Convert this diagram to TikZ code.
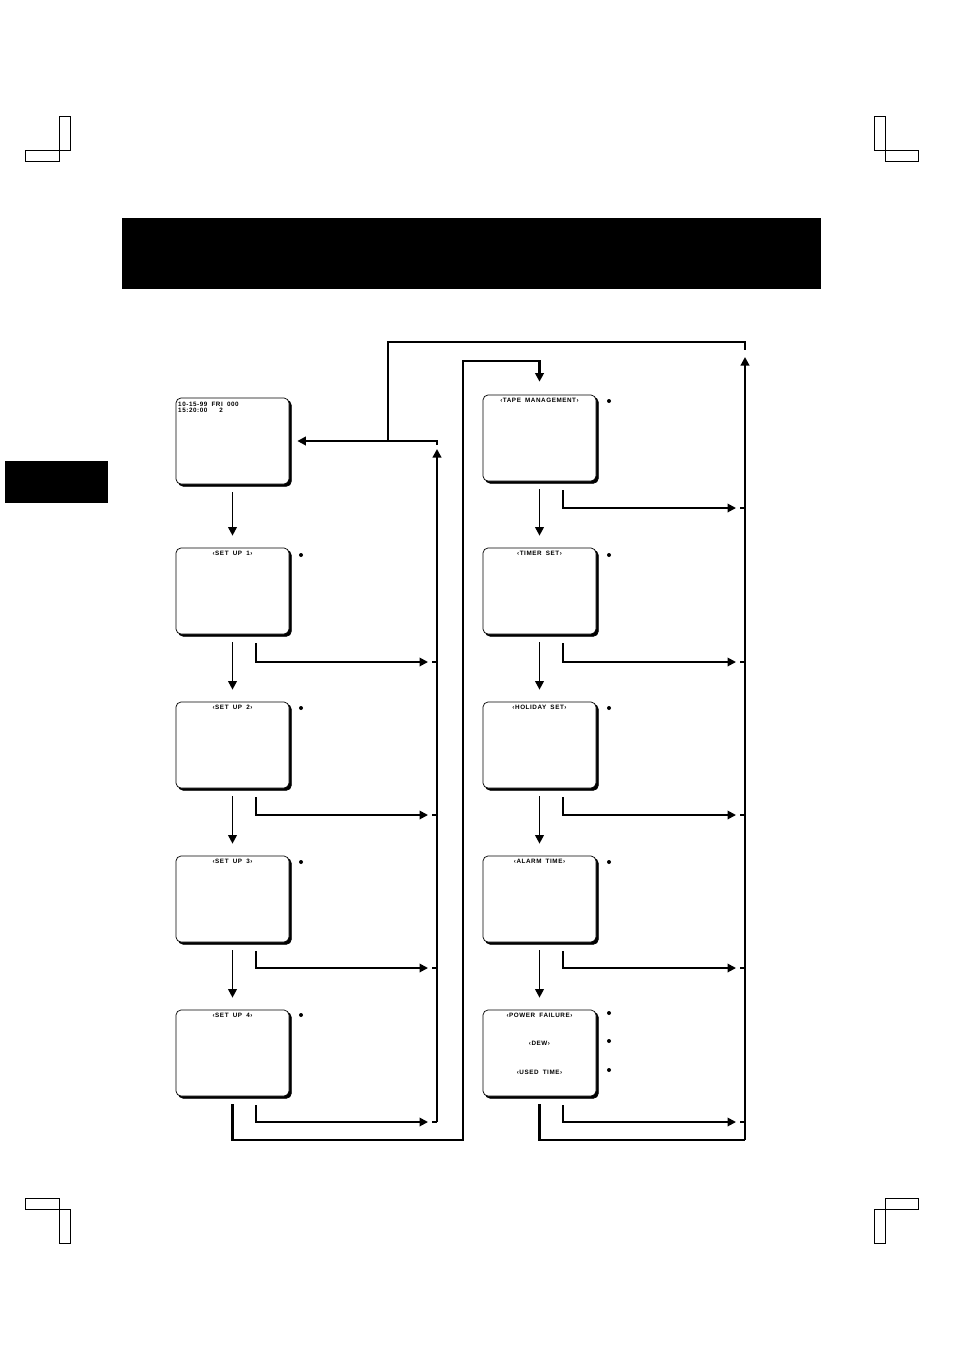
\documentclass[tikz,border=0pt]{standalone}
\usepackage{fontspec}
\setmainfont{Liberation Sans}
\newfontfamily\scrfont[LetterSpace=9,WordSpace=1.8]{Liberation Sans}
\usetikzlibrary{arrows.meta,shadows,calc}
\begin{document}
\begin{tikzpicture}[x=1pt,y=-1pt,
  screen/.style={draw, line width=0.7pt, rounded corners=5pt, fill=white,
    minimum width=113pt, minimum height=86pt, inner sep=0pt,
    copy shadow={shadow xshift=2.3pt, shadow yshift=-2.3pt, draw=black, fill=black}},
  stxt/.style={font=\scrfont\bfseries\fontsize{6.3pt}{6pt}\selectfont, inner sep=0pt, anchor=base},
  side/.style={line width=1.9pt},
  loop/.style={line width=2.6pt},
  arr/.style={-{Triangle[length=8.5pt,width=8.5pt]}},
  crop/.style={line width=1pt},
  dot/.style={circle, fill=black, inner sep=0pt, minimum size=4pt}
]
\useasboundingbox (0,0) rectangle (954,1351);

% crop marks
\draw[crop] (59,117) rectangle (70,151) (25,151) rectangle (59,162);
\draw[crop] (874,117) rectangle (885,151) (885,151) rectangle (918,162);
\draw[crop] (25,1198) rectangle (59,1209) (59,1209) rectangle (70,1243);
\draw[crop] (885,1198) rectangle (918,1209) (874,1209) rectangle (885,1243);

% header bar and side tab
\fill (122,218) rectangle (821,289);
\fill (5,461) rectangle (108,503);

% screens
\node[screen] (b0) at (232.5,441) {};
\node[screen] (s1) at (232.5,591) {};
\node[screen] (s2) at (232.5,745) {};
\node[screen] (s3) at (232.5,899) {};
\node[screen] (s4) at (232.5,1053) {};
\node[screen] (r1) at (539.5,438) {};
\node[screen] (r2) at (539.5,591) {};
\node[screen] (r3) at (539.5,745) {};
\node[screen] (r4) at (539.5,899) {};
\node[screen] (r5) at (539.5,1053) {};

% screen texts
\node[stxt, anchor=base west] (t0a) at (178,406) {10-15-99 FRI 000};
\node[stxt, anchor=base west] (t0b) at (178,412.5) {15:20:00\hspace{12pt}2};
\node[stxt] (t1) at ($(s1.north)+(0,8)$) {‹SET UP 1›};
\node[stxt] (t2) at ($(s2.north)+(0,8)$) {‹SET UP 2›};
\node[stxt] (t3) at ($(s3.north)+(0,8)$) {‹SET UP 3›};
\node[stxt] (t4) at ($(s4.north)+(0,8)$) {‹SET UP 4›};
\node[stxt] (u1) at ($(r1.north)+(0,8)$) {‹TAPE MANAGEMENT›};
\node[stxt] (u2) at ($(r2.north)+(0,8)$) {‹TIMER SET›};
\node[stxt] (u3) at ($(r3.north)+(0,8)$) {‹HOLIDAY SET›};
\node[stxt] (u4) at ($(r4.north)+(0,8)$) {‹ALARM TIME›};
\node[stxt] (u5a) at ($(r5.north)+(0,8)$) {‹POWER FAILURE›};
\node[stxt] (u5b) at ($(r5.north)+(0,36)$) {‹DEW›};
\node[stxt] (u5c) at ($(r5.north)+(0,65)$) {‹USED TIME›};

% bullets
\node[dot] (d1) at (301,555) {};
\node[dot] (d2) at (301,708) {};
\node[dot] (d3) at (301,862) {};
\node[dot] (d4) at (301,1015) {};
\node[dot] (e1) at (609,401) {};
\node[dot] (e2) at (609,555) {};
\node[dot] (e3) at (609,708) {};
\node[dot] (e4) at (609,862) {};
\node[dot] (e5) at (609,1013) {};
\node[dot] (e6) at (609,1041) {};
\node[dot] (e7) at (609,1070) {};

% down arrows
\foreach \a/\b in {b0/s1,s1/s2,s2/s3,s3/s4,r1/r2,r2/r3,r3/r4,r4/r5}
  \draw[side,arr] ($(\a.south)+(0,8)$) -- ($(\b.north)+(0,-12)$);

% junction coordinates
\coordinate (jl1) at (437,662);
\coordinate (jl2) at (437,815);
\coordinate (jl3) at (437,968);
\coordinate (jl4) at (437,1122);
\coordinate (jr1) at (745,508);
\coordinate (jr2) at (745,662);
\coordinate (jr3) at (745,815);
\coordinate (jr4) at (745,968);
\coordinate (jr5) at (745,1122);

% side exits
\foreach \a/\j in {s1/jl1,s2/jl2,s3/jl3,s4/jl4,r1/jr1,r2/jr2,r3/jr3,r4/jr4,r5/jr5}{
  \draw[side,arr,shorten >=9pt] ($(\a.south)+(23.5,9)$) |- (\j);
  \draw[side] (\j) -- ++(-5,0);
}

% left collector up to first screen
\coordinate (lvt) at (437,449);
\coordinate (lst) at (437,445);
\draw[loop,arr] (jl4) -- (lvt);
\draw[loop,arr,shorten >=8pt] (lst) |- (b0.east);

% outer loop over the top
\coordinate (ta) at (388,440);
\coordinate (tb) at (388,342);
\coordinate (tc) at (745,342);
\coordinate (td) at (745,350);
\draw[loop] (ta) -- (tb) -- (tc) -- (td);

% inner loop from SET UP 4 to TAPE MANAGEMENT
\coordinate (ib) at (463,1140);
\coordinate (it) at (463,361);
\draw[loop,arr,shorten >=13pt] ($(s4.south)+(0,8)$) |- (ib) -- (it) -| (r1.north);

% right collector
\coordinate (rb) at (745,1140);
\coordinate (rt) at (745,357);
\draw[loop] ($(r5.south)+(0,8)$) |- (rb);
\draw[loop,arr] (rb) -- (rt);
\end{tikzpicture}
\end{document}
